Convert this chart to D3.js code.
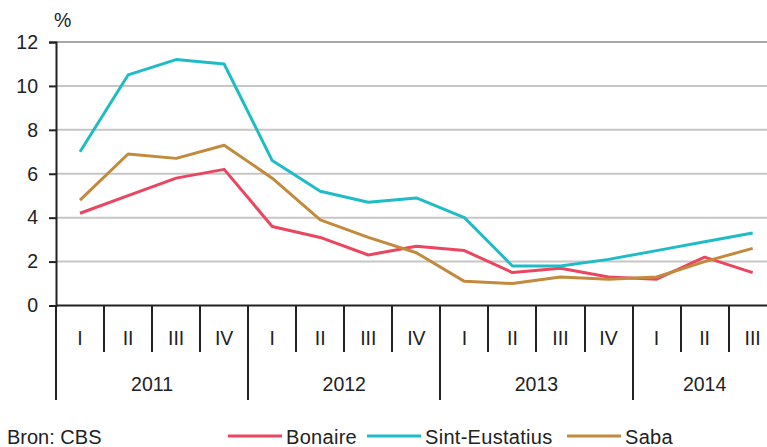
<!DOCTYPE html>
<html>
<head>
<meta charset="utf-8">
<script src="https://cdn.jsdelivr.net/npm/d3@7"></script>
<style>
  html, body { margin: 0; padding: 0; background: #fff; overflow: hidden; }
  svg { display: block; font-family: 'Liberation Sans', Arial, sans-serif; }
  text { fill: #222; }
</style>
</head>
<body>
<div id="chart"></div>
<script>
// ---- data ----
var periods = ['2011-I', '2011-II', '2011-III', '2011-IV',
               '2012-I', '2012-II', '2012-III', '2012-IV',
               '2013-I', '2013-II', '2013-III', '2013-IV',
               '2014-I', '2014-II', '2014-III'];
var yTicks = [0, 2, 4, 6, 8, 10, 12];
var seriesNames = ['Bonaire', 'Sint-Eustatius', 'Saba'];
var seriesColors = ['#eb4560', '#1fbcc6', '#c28a3c'];
var bonaire = [4.2, 5.0, 5.8, 6.2, 3.6, 3.1, 2.3, 2.7, 2.5, 1.5, 1.7, 1.3, 1.2, 2.2, 1.5];
var sintEustatius = [7.0, 10.5, 11.2, 11.0, 6.6, 5.2, 4.7, 4.9, 4.0, 1.8, 1.8, 2.1, 2.5, 2.9, 3.3];
var saba = [4.8, 6.9, 6.7, 7.3, 5.8, 3.9, 3.1, 2.4, 1.1, 1.0, 1.3, 1.2, 1.3, 2.0, 2.6];
var seriesValues = [bonaire, sintEustatius, saba];

// ---- layout ----
var width = 767, height = 447;
var margin = {top: 42, left: 56, bottom: 305.5};
var plotRight = 776.7; // last band runs past the window edge, like the original
var fontSize = 19.5;

var svg = d3.select('#chart').append('svg')
  .attr('width', width)
  .attr('height', height);

var x = d3.scaleBand()
  .domain(periods)
  .range([margin.left, plotRight]);

var y = d3.scaleLinear()
  .domain([0, 12])
  .range([margin.bottom, margin.top]);

// gridlines
svg.append('g')
  .selectAll('line')
  .data(yTicks.filter(function(d) { return d > 0; }))
  .enter().append('line')
    .attr('x1', margin.left)
    .attr('x2', width)
    .attr('y1', function(d) { return y(d); })
    .attr('y2', function(d) { return y(d); })
    .attr('stroke', function(d) { return d === 12 ? '#a8a8a8' : '#c6c6c6'; })
    .attr('stroke-width', 2);

// y axis
var yAxis = svg.append('g')
  .attr('transform', 'translate(' + margin.left + ',0)')
  .call(d3.axisLeft(y).tickValues(yTicks).tickSize(7).tickPadding(11).tickFormat(d3.format('d')));
yAxis.select('.domain').attr('stroke', '#222').attr('stroke-width', 2);
yAxis.selectAll('.tick line').attr('stroke', '#222').attr('stroke-width', 2);
yAxis.selectAll('.tick text')
  .attr('font-size', fontSize)
  .attr('font-family', 'Liberation Sans, Arial, sans-serif')
  .attr('fill', '#222');

svg.append('text')
  .attr('x', 54)
  .attr('y', 27)
  .attr('font-size', fontSize)
  .text('%');

// x axis baseline
svg.append('line')
  .attr('x1', margin.left)
  .attr('x2', width)
  .attr('y1', y(0))
  .attr('y2', y(0))
  .attr('stroke', '#222')
  .attr('stroke-width', 2);

// quarter ticks and labels
var xAxis = svg.append('g');
periods.forEach(function(p, i) {
  var parts = p.split('-');
  var isYearStart = parts[1] === 'I';
  var x0 = Math.round(x(p));
  xAxis.append('line')
    .attr('x1', x0).attr('x2', x0)
    .attr('y1', y(0))
    .attr('y2', isYearStart ? 400 : 352)
    .attr('stroke', '#222')
    .attr('stroke-width', 2);
  xAxis.append('text')
    .attr('x', x(p) + x.bandwidth() / 2)
    .attr('y', 345)
    .attr('text-anchor', 'middle')
    .attr('font-size', fontSize)
    .text(parts[1]);
});

// year labels, centred under their quarters
var years = d3.groups(periods, function(p) { return p.split('-')[0]; });
years.forEach(function(g) {
  var first = g[1][0], last = g[1][g[1].length - 1];
  var cx = (x(first) + x(last) + x.bandwidth()) / 2;
  xAxis.append('text')
    .attr('x', cx)
    .attr('y', 391)
    .attr('text-anchor', 'middle')
    .attr('font-size', fontSize)
    .text(g[0]);
});

// series lines
var line = d3.line()
  .x(function(d, i) { return x(periods[i]) + x.bandwidth() / 2; })
  .y(function(d) { return y(d); });

seriesValues.forEach(function(vals, s) {
  svg.append('path')
    .datum(vals)
    .attr('d', line)
    .attr('fill', 'none')
    .attr('stroke', seriesColors[s])
    .attr('stroke-width', 3)
    .attr('stroke-linejoin', 'round');
});

// source
svg.append('text')
  .attr('x', 7)
  .attr('y', 444)
  .attr('font-size', 20)
  .text('Bron: CBS');

// legend
var legendX = [228, 367, 567];
seriesNames.forEach(function(name, s) {
  var lg = svg.append('g').attr('transform', 'translate(' + legendX[s] + ',436)');
  lg.append('line')
    .attr('x1', 0).attr('x2', 54)
    .attr('stroke', seriesColors[s])
    .attr('stroke-width', 3);
  lg.append('text')
    .attr('x', 58)
    .attr('y', 8)
    .attr('font-size', 20)
    .attr('letter-spacing', 0.3)
    .text(name);
});
</script>
</body>
</html>
